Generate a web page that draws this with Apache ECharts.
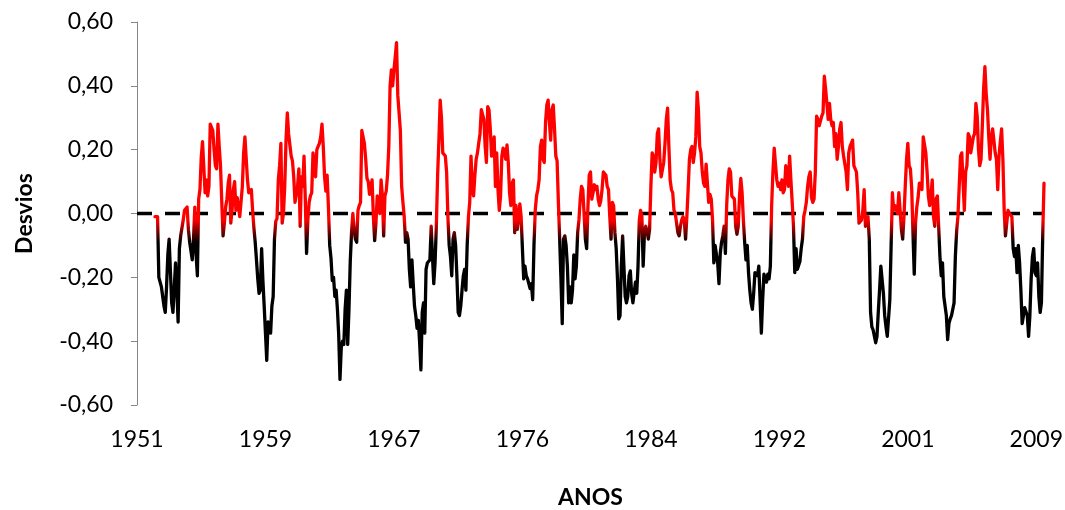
<!DOCTYPE html>
<html>
<head>
<meta charset="utf-8">
<script src="https://cdn.jsdelivr.net/npm/echarts@6/dist/echarts.min.js"></script>
<style>
html,body{margin:0;padding:0;background:#fff;}
#chart{width:1065px;height:510px;}
</style>
</head>
<body>
<div id="chart"></div>
<script>
// Monthly deviations (Desvios), Jan 1951 onward; first 14 months have no value.
const leadingMissing = 14;
const seg1952_1958 = [
-0.01,-0.01,-0.01,-0.20,-0.20,-0.23,-0.26,-0.29,-0.31,-0.23,
-0.13,-0.08,-0.18,-0.28,-0.31,-0.31,-0.155,-0.24,-0.34,-0.11,
-0.07,-0.07,-0.02,0.01,0.01,0.02,-0.05,-0.09,-0.09,-0.145,
-0.08,0.02,-0.13,-0.195,0.045,0.075,0.175,0.225,0.22,0.065,
0.105,0.055,0.085,0.28,0.275,0.26,0.20,0.15,0.14,0.28,
0.21,0.15,0.035,-0.07,-0.03,0.02,0.045,0.095,0.12,-0.03,
0.01,0.075,0.10,0.01,0.05,0.02,-0.01,-0.015,0.085,0.19,
0.24,0.235,0.105,0.065,0.06,0.075,0.01,-0.045,-0.09,-0.145,
-0.205,-0.25
];
const seg1959_1966 = [
-0.24,-0.11,-0.21,-0.29,-0.375,-0.46,-0.34,-0.36,-0.375,-0.29,
-0.26,-0.08,-0.025,-0.015,0.105,0.15,0.22,-0.03,0.00,0.085,
0.23,0.315,0.25,0.255,0.18,0.165,0.115,0.035,0.035,0.085,
0.14,-0.04,0.115,0.085,0.18,0.045,-0.125,-0.02,0.035,0.055,
0.065,0.19,0.15,0.115,0.20,0.21,0.22,0.24,0.28,0.21,
0.115,0.07,0.12,0.02,-0.10,-0.14,-0.21,-0.20,-0.26,-0.24,
-0.30,-0.38,-0.52,-0.42,-0.40,-0.41,-0.30,-0.24,-0.41,-0.30,
-0.15,-0.06,0.00,-0.05,-0.08,-0.09,0.01,0.025,0.035,0.26,
0.26,0.22,0.17,0.11,0.10,0.06
];
const seg1966_1973 = [
0.055,0.105,-0.01,-0.085,-0.03,0.055,0.055,0.00,0.105,0.055,
-0.07,0.055,0.07,0.12,0.21,0.40,0.45,0.40,0.45,0.49,
0.535,0.37,0.315,0.26,0.085,0.035,-0.01,-0.09,-0.06,-0.08,
-0.175,-0.23,-0.145,-0.22,-0.29,-0.32,-0.36,-0.335,-0.405,-0.49,
-0.31,-0.28,-0.375,-0.175,-0.155,-0.15,-0.145,-0.04,-0.135,-0.22,
-0.155,-0.04,0.12,0.23,0.355,0.30,0.19,0.185,0.18,0.13,
-0.01,-0.10,-0.135,-0.195,-0.08,-0.06,-0.10,-0.195,-0.31,-0.32,
-0.29,-0.24,-0.195,-0.175,-0.24,-0.10,-0.01,0.035,0.18,0.075,
0.055,0.12,0.17,0.19,0.22,0.25
];
const seg1973_1980 = [
0.325,0.325,0.295,0.21,0.16,0.335,0.325,0.265,0.18,0.19,
0.24,0.085,0.19,0.075,0.01,0.055,0.18,0.205,0.19,0.17,
0.215,0.16,0.065,0.025,0.095,0.105,-0.06,0.025,-0.05,-0.02,
0.03,-0.01,-0.11,-0.205,-0.165,-0.195,-0.205,-0.205,-0.235,-0.22,
-0.27,-0.10,0.01,0.055,0.075,0.105,0.21,0.23,0.17,0.16,
0.285,0.34,0.355,0.285,0.23,0.325,0.34,0.265,0.18,0.165,
0.035,-0.08,-0.205,-0.345,-0.08,-0.07,-0.10,-0.165,-0.28,-0.23,
-0.28,-0.24,-0.13,-0.205,-0.165,-0.06,-0.02,0.045,0.085,0.075,
0.00,-0.08,-0.11,0.02,0.12,0.13
];
const seg1980_1987 = [
0.045,0.065,0.09,0.075,0.085,0.045,0.025,0.04,0.075,0.13,
0.135,0.12,0.085,0.075,-0.01,-0.08,0.035,0.025,-0.06,-0.11,
-0.205,-0.33,-0.32,-0.165,-0.07,-0.165,-0.26,-0.28,-0.26,-0.195,
-0.18,-0.25,-0.28,-0.28,-0.215,-0.25,-0.165,-0.02,0.01,-0.01,
-0.165,-0.06,-0.04,-0.055,-0.08,-0.05,0.085,0.19,0.18,0.13,
0.16,0.25,0.265,0.17,0.115,0.12,0.16,0.22,0.295,0.33,
0.21,0.105,0.075,0.065,0.01,0.00,-0.03,-0.06,-0.07,-0.04,
-0.02,-0.01,-0.02,-0.08,-0.01,0.075,0.17,0.20,0.21,0.16,
0.19,0.24,0.38,0.325,0.21
];
const seg1987_1994 = [
0.19,0.13,0.095,0.085,0.155,0.095,0.035,0.06,0.045,-0.02,
-0.155,-0.10,-0.10,-0.155,-0.22,-0.125,-0.09,-0.07,-0.04,-0.125,
0.025,0.105,0.14,0.13,0.055,0.055,0.045,-0.04,-0.065,-0.04,
0.055,0.11,0.065,-0.02,-0.09,-0.145,-0.10,-0.185,-0.24,-0.28,
-0.30,-0.25,-0.185,-0.185,-0.195,-0.165,-0.27,-0.375,-0.27,-0.19,
-0.195,-0.215,-0.19,-0.205,-0.165,0.025,0.13,0.205,0.155,0.105,
0.085,0.095,0.075,0.105,0.065,0.075,0.15,0.15,0.085,0.18,
0.105,0.035,-0.04,-0.185,-0.11,-0.175,-0.175,-0.15,-0.11,-0.08,
-0.01,0.01,0.035,0.085,0.115,0.13
];
const seg1994_2001 = [
0.05,0.035,0.045,0.13,0.305,0.295,0.275,0.275,0.305,0.315,
0.43,0.39,0.345,0.295,0.345,0.295,0.275,0.285,0.21,0.25,
0.17,0.21,0.265,0.285,0.21,0.18,0.18,0.13,0.075,0.19,
0.21,0.22,0.23,0.15,0.15,0.13,0.065,-0.03,-0.03,-0.02,
0.01,0.075,-0.04,-0.02,-0.01,-0.08,-0.31,-0.355,-0.365,-0.385,
-0.405,-0.385,-0.31,-0.24,-0.165,-0.165,-0.25,-0.32,-0.355,-0.385,
-0.385,-0.27,-0.10,0.065,0.01,0.025,0.025,0.00,0.065,0.01,
-0.05,-0.08,-0.01,0.085,0.17,0.22,0.15,0.14,0.08,-0.06,
-0.19,-0.03,0.02,0.05,0.095,0.085
];
const seg2001_2009 = [
0.075,0.24,0.24,0.19,0.13,0.055,0.025,0.055,0.105,-0.01,
-0.04,0.045,0.055,-0.04,-0.135,-0.195,-0.155,-0.26,-0.29,-0.32,
-0.395,-0.345,-0.33,-0.32,-0.30,-0.28,-0.135,-0.055,-0.01,0.085,
0.18,0.19,0.095,0.01,0.13,0.15,0.25,0.24,0.19,0.19,
0.24,0.25,0.345,0.305,0.20,0.15,0.17,0.275,0.39,0.46,
0.375,0.325,0.24,0.17,0.24,0.265,0.23,0.19,0.17,0.075,
0.18,0.225,0.265,0.17,0.01,-0.07,-0.07,0.01,0.00,0.00,
-0.01,-0.11,-0.135,-0.11,-0.185,-0.10,-0.155,-0.24,-0.345,-0.32,
-0.295,-0.295,-0.32,-0.385,-0.32,-0.205,-0.135,-0.11,-0.185,-0.195,
-0.155,-0.26,-0.31,-0.28,-0.07,0.095
];
const yearTicks = ['1951','1959','1967','1976','1984','1992','2001','2009'];
const yTicks = [-0.6, -0.4, -0.2, 0, 0.2, 0.4, 0.6];

const desvios = new Array(leadingMissing).fill(null).concat(
  seg1952_1958, seg1959_1966, seg1966_1973, seg1973_1980,
  seg1980_1987, seg1987_1994, seg1994_2001, seg2001_2009);
const months = desvios.map((_, i) => String(1951 + Math.floor(i / 12)));
const zeroRef = months.map(() => 0);

const FONT = 'Lato';
const chart = echarts.init(document.getElementById('chart'), null, {renderer: 'canvas'});
chart.setOption({
  animation: false,
  backgroundColor: '#ffffff',
  grid: {left: 137, right: 21, top: 22, bottom: 105, containLabel: false, outerBoundsMode: 'none'},
  xAxis: {
    type: 'category',
    data: months,
    boundaryGap: false,
    name: 'ANOS',
    nameLocation: 'middle',
    nameGap: 81,
    nameTextStyle: {fontFamily: FONT, fontWeight: 'bold', fontSize: 23, color: '#000'},
    axisLine: {show: false, onZero: false},
    axisTick: {show: false},
    splitLine: {show: false},
    axisLabel: {
      interval: 99,
      margin: 23,
      fontFamily: FONT, fontSize: 23, color: '#000',
      formatter: (v, idx) => yearTicks[Math.round(idx / 100)] || v
    }
  },
  yAxis: {
    type: 'value',
    min: yTicks[0], max: yTicks[yTicks.length - 1], interval: 0.2,
    name: 'Desvios',
    nameLocation: 'middle',
    nameRotate: 90,
    nameGap: 101,
    nameTextStyle: {fontFamily: FONT, fontWeight: 'bold', fontSize: 23, color: '#000'},
    axisLine: {show: true, lineStyle: {color: '#868686', width: 1}},
    axisTick: {show: true, inside: false, length: 6, lineStyle: {color: '#868686', width: 1}},
    splitLine: {show: false},
    axisLabel: {
      margin: 24,
      fontFamily: FONT, fontSize: 23, color: '#000',
      formatter: v => v.toFixed(2).replace('.', ',')
    }
  },
  visualMap: {
    type: 'continuous',
    show: false,
    seriesIndex: 1,
    dimension: 1,
    min: -0.09, max: -0.02,
    inRange: {color: ['#000000', '#ff0000']}
  },
  series: [
    {
      name: 'zero',
      type: 'line',
      data: zeroRef,
      showSymbol: false,
      silent: true,
      z: 1,
      lineStyle: {color: '#000000', width: 3.5, type: [15, 13], cap: 'butt'}
    },
    {
      name: 'Desvios',
      type: 'line',
      data: desvios,
      showSymbol: false,
      connectNulls: false,
      z: 2,
      lineStyle: {width: 3.3, cap: 'round', join: 'round'}
    }
  ]
});
</script>
</body>
</html>
